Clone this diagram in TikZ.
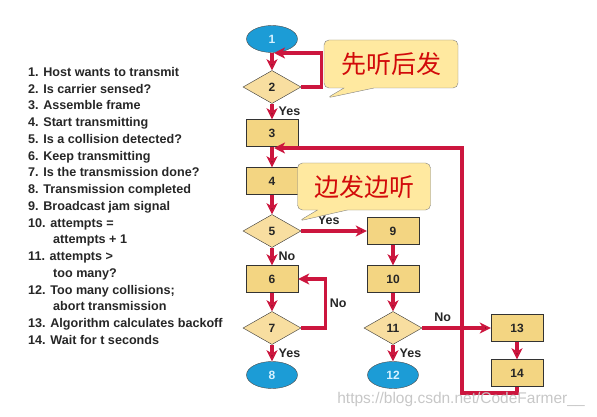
\documentclass[tikz,border=0pt]{standalone}
\usepackage{fontspec}
\newfontfamily\lab{Liberation Sans}
\newfontfamily\cjk{Noto Sans CJK SC}
\usetikzlibrary{arrows.meta,positioning}
\usetikzlibrary{shapes.geometric,shapes.callouts}
\definecolor{flowred}{RGB}{204,22,62}
\definecolor{boxfill}{RGB}{243,213,130}
\definecolor{diafill}{RGB}{248,222,160}
\definecolor{endfill}{RGB}{28,156,214}
\definecolor{endtext}{RGB}{215,242,255}
\definecolor{bubblefill}{RGB}{255,233,160}
\definecolor{cjkred}{RGB}{210,10,10}

\begin{document}
\begin{tikzpicture}
	[x=1pt,y=-1pt,auto=left,
	box node/.style={shape=rectangle,draw=black!80,fill=boxfill,minimum width=52pt,minimum height=27pt,inner sep=0pt,font=\lab\bfseries\fontsize{12}{14}\selectfont,text=black!85},
	test node/.style={shape=diamond,draw=black!80,fill=diafill,minimum width=58pt,minimum height=33pt,inner sep=0pt,font=\lab\bfseries\fontsize{12}{14}\selectfont,text=black!85},
	end node/.style={shape=ellipse,draw=black!70,fill=endfill,minimum width=51pt,minimum height=27pt,inner sep=0pt,font=\lab\bfseries\fontsize{12}{14}\selectfont,text=endtext},
	bubble/.style={shape=rectangle callout,draw=black!50,fill=bubblefill,rounded corners=5pt,minimum width=134pt,minimum height=48pt,callout pointer width=30pt,font=\cjk\fontsize{25}{29}\selectfont,text=cjkred},
	flow/.style={draw=flowred,line width=3.4pt,-{Stealth[length=11pt,width=11pt,inset=3pt]}},
	edge label/.style={font=\lab\bfseries\fontsize{12.5}{14}\selectfont,text=black!85,inner sep=5pt}]
	\useasboundingbox (0,0) rectangle (597,417);
	
	% steps
	\node [anchor=north west,inner sep=0pt,align=left,text=black!85,font=\lab\bfseries\fontsize{12.6}{16.75}\selectfont] (list) at (28,67) {1. Host wants to transmit\\
		2. Is carrier sensed?\\
		3. Assemble frame\\
		4. Start transmitting\\
		5. Is a collision detected?\\
		6. Keep transmitting\\
		7. Is the transmission done?\\
		8. Transmission completed\\
		9. Broadcast jam signal\\
		10. attempts =\\
		\hspace*{25pt}attempts + 1\\
		11. attempts >\\
		\hspace*{25pt}too many?\\
		12. Too many collisions;\\
		\hspace*{25pt}abort transmission\\
		13. Algorithm calculates backoff\\
		14. Wait for t seconds};
	
	% flowchart
	\node [end node] (1) at (272,39) {1};
	\node [test node] (2) at (272,87) {2};
	\node [box node] (3) at (272,133) {3};
	\node [box node] (4) at (272,181) {4};
	\node [test node] (5) at (272,231) {5};
	\node [box node] (6) at (272,279) {6};
	\node [test node] (7) at (272,328) {7};
	\node [end node] (8) at (272,375) {8};
	\node [box node] (9) at (393,231) {9};
	\node [box node] (10) at (393,279) {10};
	\node [test node] (11) at (393,328) {11};
	\node [end node] (12) at (393,375) {12};
	\node [box node] (13) at (517,328) {13};
	\node [box node] (14) at (517,373) {14};
	
	\coordinate (j1) at (274,53);
	\coordinate (j3) at (274,148);
	\coordinate (k) at (462,393);
	
	\path[flow]
	(1) edge (2)
	(2) edge node [edge label] {Yes} (3)
	(3) edge (4)
	(4) edge (5)
	(5) edge node [edge label] {No} (6)
	(6) edge (7)
	(7) edge node [edge label] {Yes} (8)
	(5) edge node [edge label,pos=.42] {Yes} (9)
	(9) edge (10)
	(10) edge (11)
	(11) edge node [edge label] {Yes} (12)
	(11) edge node [edge label,pos=.3] {No} (13)
	(13) edge (14)
	;
	
	\draw[flow] (2.east) -- ++(20,0) |- (j1);
	\draw[flow] (7.east) -- ++(24,0) |- node [edge label,right,pos=.25,inner sep=3pt] {No} (6.east);
	\draw[flow] (14.south) |- (k) |- (j3);
	
	% callouts
	\node [bubble,callout absolute pointer={(327,98)}] (c1) at (391,64) {先听后发};
	\node [bubble,minimum width=133pt,minimum height=47pt,callout absolute pointer={(299,221)}] (c2) at (364,186.5) {边发边听};
	
	\node [text=black!22,font=\lab\fontsize{15.5}{18}\selectfont] (mark) at (461,399) {https://blog.csdn.net/CodeFarmer\_\_};
\end{tikzpicture}
\end{document}
